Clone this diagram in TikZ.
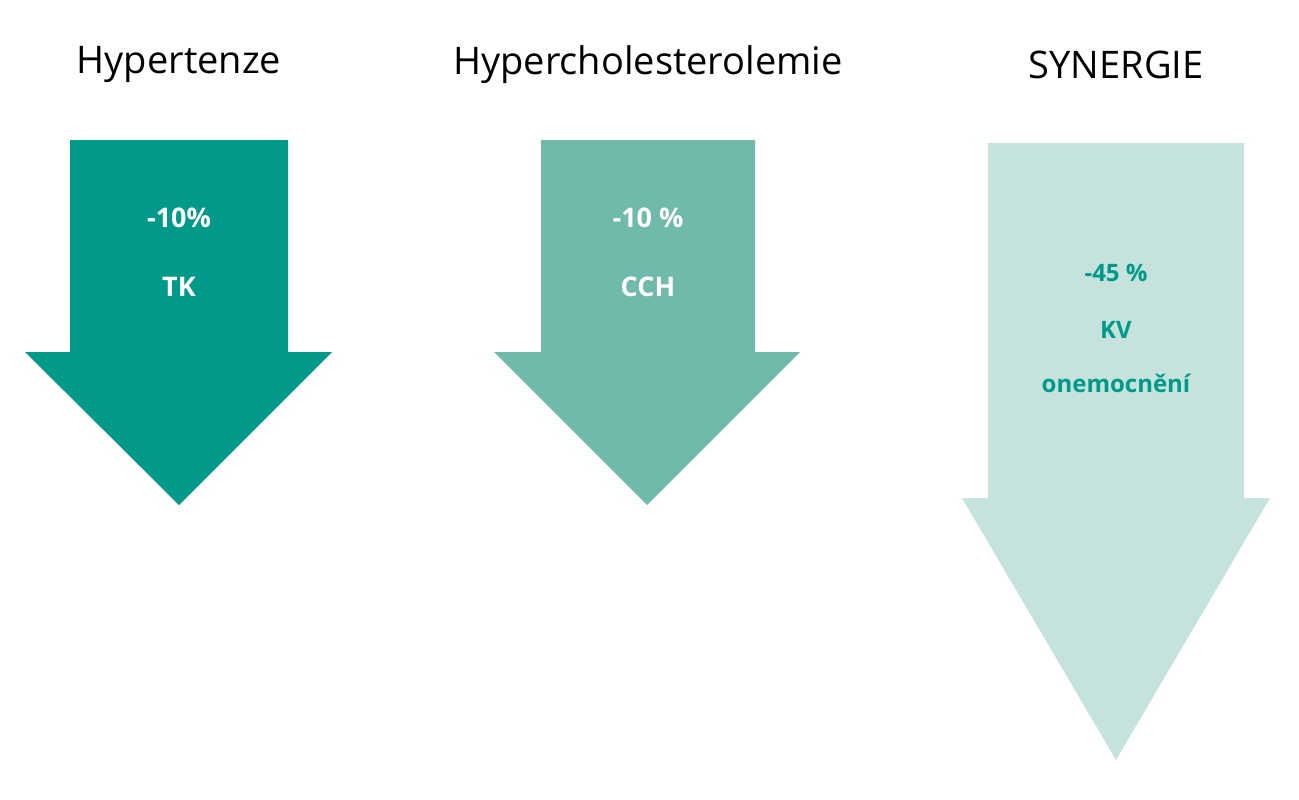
\documentclass[tikz,border=0pt]{standalone}
\usepackage{fontspec}
\setmainfont{Open Sans}
\definecolor{tealA}{RGB}{0,153,138}
\definecolor{tealB}{RGB}{111,186,171}
\definecolor{tealC}{RGB}{197,227,220}
\tikzset{
  downarrow/.style={draw=none,fill=#1},
  title/.style={font=\fontsize{38}{44}\selectfont},
  label/.style={font=\bfseries\fontsize{27}{32}\selectfont,text=white},
  labelC/.style={font=\bfseries\fontsize{24}{30}\selectfont,text=tealA}
}
\begin{document}
\begin{tikzpicture}[x=1pt,y=1pt,yscale=-1]
  \useasboundingbox (0,0) rectangle (1299,800);
  % arrows
  \fill[downarrow=tealA] (70,140) -- (288,140) -- (288,352) -- (332,352) -- (179,505) -- (25,352) -- (70,352) -- cycle;
  \fill[downarrow=tealB] (541,140) -- (755,140) -- (755,352) -- (800,352) -- (647,505) -- (494,352) -- (541,352) -- cycle;
  \fill[downarrow=tealC] (988,143) -- (1244,143) -- (1244,498) -- (1270,498) -- (1116,760) -- (962,498) -- (988,498) -- cycle;
  % titles
  \node[title] (hyp) at (179,65) {Hypertenze};
  \node[title] (chol) at (648,65) {Hypercholesterolemie};
  \node[title] (syn) at (1116,65) {SYNERGIE};
  % labels
  \node[label] (tkval) at (179,218) {-10\%};
  \node[label] (tk) at (179,287) {TK};
  \node[label] (cchval) at (648,218) {-10 \%};
  \node[label] (cch) at (648,287) {CCH};
  \node[labelC] (kvval) at (1116,273) {-45 \%};
  \node[labelC] (kv) at (1116,330) {KV};
  \node[labelC] (kvon) at (1116,383) {onemocnění};
\end{tikzpicture}
\end{document}
